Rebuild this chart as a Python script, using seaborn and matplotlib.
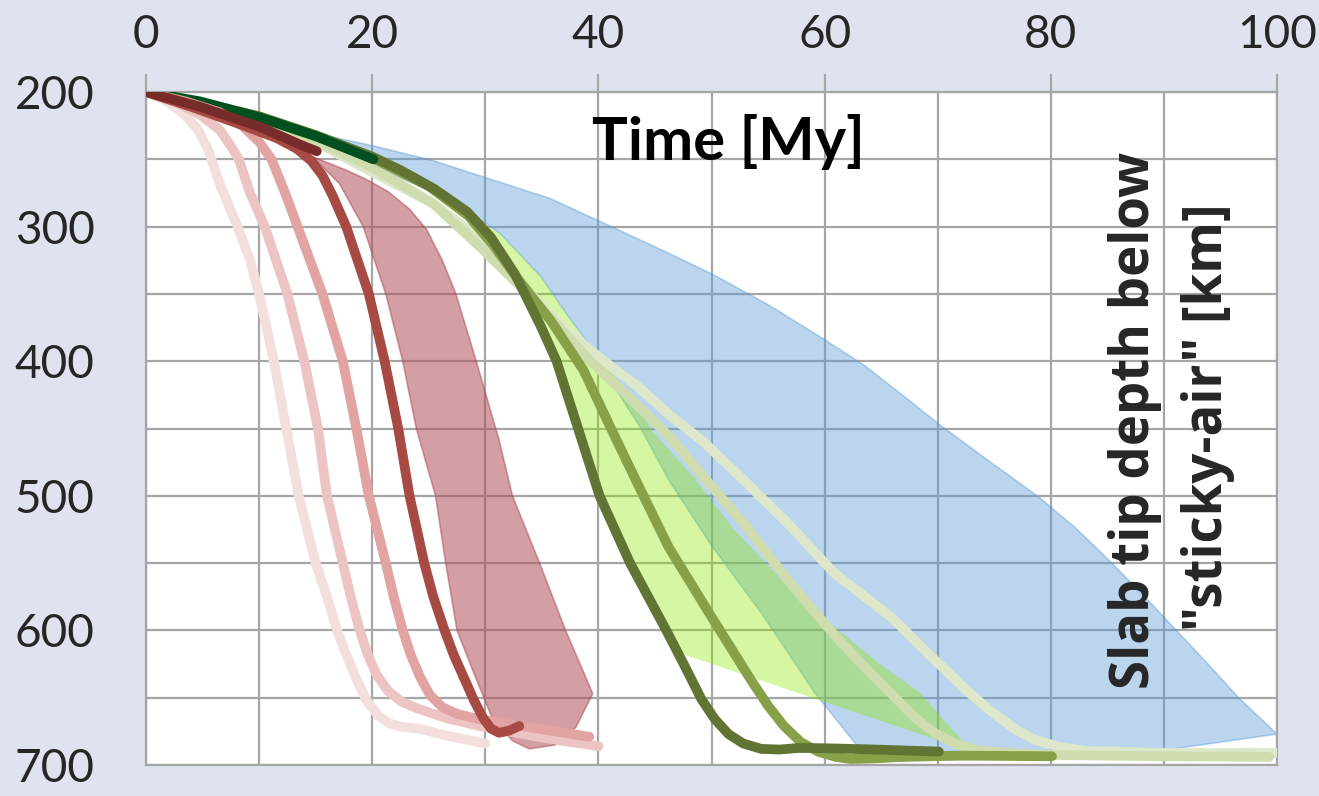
import numpy as np
import seaborn as sns
import matplotlib.pyplot as plt

# ----------------------------
# Data: slab tip depth [km] vs time [My]
# ----------------------------
t_pink1 = [0, 1.5, 3.3, 4.6, 5.5, 6.6, 8.1, 9.2, 10.0, 11.3, 12.4, 13.5, 15.0, 16.0, 16.9, 17.8, 18.6, 19.5, 20.5, 21.5, 22.5, 24.2, 26.5, 30.0]
d_pink1 = [200, 205, 216, 228, 243, 270, 300, 325, 350, 400, 450, 500, 550, 575, 600, 620, 636, 652, 663, 669, 671.5, 673, 678, 684]

t_pink2 = [0, 2.5, 4.8, 6.5, 7.5, 8.2, 9.2, 10.5, 12.5, 14.0, 15.2, 16.0, 17.4, 18.1, 18.9, 19.6, 20.4, 21.4, 22.6, 24.0, 26.5, 29.5, 35.3, 40.0]
d_pink2 = [200, 207, 217, 228, 240, 250, 275, 300, 350, 400, 450, 500, 550, 575, 600, 618, 633, 645, 653, 658, 665, 671, 680, 686]

t_pink3 = [0, 3.5, 6.5, 8.5, 10.0, 11.1, 12.3, 13.4, 15.6, 17.4, 18.6, 19.7, 21.2, 21.9, 22.7, 23.4, 24.2, 25.1, 26.2, 27.5, 29.5, 32.4, 39.2]
d_pink3 = [200, 207, 215, 225, 237, 250, 275, 300, 350, 400, 450, 500, 550, 575, 600, 618, 634, 648, 657, 662, 666, 670, 679]

t_red = [0, 4, 8, 11.5, 13.3, 14.6, 15.6, 16.5, 17.7, 19.7, 21.1, 22.3, 23.3, 24.6, 25.4, 26.4, 27.2, 28.1, 29.0, 29.8, 30.5, 31.2, 32.1, 33.0]
d_red = [200, 211, 223, 234, 242, 251, 262, 277, 300, 350, 400, 450, 500, 550, 575, 600, 618, 635, 652, 665, 673, 676, 674.5, 671]

t_maroon = [0, 4.8, 10.1, 13.6, 15.1]
d_maroon = [200, 211, 226, 239, 244]

t_dkgreen = [0, 4.8, 10.1, 15.1, 20.1]
d_dkgreen = [200, 207, 219, 233, 250]

t_olive1 = [0, 5, 10, 15, 20, 22.5, 25.5, 28.4, 30.5, 32.6, 34.9, 36.3, 38.2, 40.1, 42.8, 46.0, 47.6, 49.1, 50.3, 51.5, 52.8, 54.4, 56.0, 57.7, 60.0, 64.5, 70.1]
d_olive1 = [200, 208, 218, 232, 248, 258, 272, 289, 308, 335, 374, 400, 450, 500, 550, 600, 626, 651, 666, 677, 684, 688, 688.5, 687.3, 687.5, 688.5, 690]

t_olive2 = [0, 5, 10, 15, 20, 25, 28.5, 30.8, 32.8, 35.8, 38.7, 41.0, 43.4, 46.2, 50.0, 53.5, 55.0, 56.4, 57.9, 59.4, 61.0, 62.3, 64.5, 66.7, 72.0, 80.1]
d_olive2 = [200, 208, 219, 233, 249, 270, 292, 315, 338, 370, 407, 448, 490, 538, 590, 637, 656, 671, 683, 690, 694, 695.5, 695, 694, 693, 693.5]

t_paleA = [0, 5, 10, 15, 20, 25.4, 29.9, 33.4, 36.0, 39.3, 42.5, 46.5, 49.5, 52.8, 56.7, 60.6, 63.5, 66.0, 68.0, 69.7, 71.5, 73.5, 76.0, 80.0, 90.0, 99.3]
d_paleA = [200, 209, 221, 236, 256, 283, 318, 347, 370, 400, 425, 458, 488, 520, 562, 601, 627, 648, 665, 676, 684, 689, 691, 692.5, 693.5, 694]

t_paleB = [0, 5, 10, 15, 20.1, 25.4, 30.0, 34.0, 37.2, 40.5, 43.5, 46.3, 49.3, 52.8, 56.7, 60.8, 66.0, 69.5, 73.0, 75.0, 76.8, 78.5, 80.5, 83.0, 90.0, 99.9]
d_paleB = [200, 209, 221, 237, 260, 283, 312, 350, 377, 400, 419, 440, 460, 488, 520, 557, 591, 620, 648, 662, 673, 681, 686, 689.5, 691, 691]

# bands (outline of each shaded range)
t_red_band = [14.7, 17.1, 19.2, 21.2, 22.7, 23.9, 25.6, 26.5, 27.5, 29.0, 30.6, 32.4, 33.9,
              36.2, 38.0, 39.5, 37.1, 34.8, 32.4, 31.2, 29.2, 27.4, 26.2, 24.8, 23.3, 21.4, 19.5, 17.7]
d_red_band = [248, 268, 300, 350, 400, 450, 500, 550, 600, 632, 665, 682, 688,
              685, 672, 647, 600, 550, 500, 458, 400, 350, 325, 302, 287, 274, 265, 258]

t_blue_band = [14, 20.1, 25.4, 29.8, 35.7, 40.1, 45, 50, 55, 60, 63.5, 66.7, 70.3, 74.5, 78.8, 82.2, 85.4, 88.3, 91.1, 93.9, 96.6, 100,
               90, 80.5, 72, 64, 62.9, 59.1, 54.4, 50, 46.2, 43.7, 41.4, 39.3, 37.2, 34.9, 31.3, 27.2, 22]
d_blue_band = [229, 240, 251, 263, 279, 296, 315, 335, 358, 384, 403, 424, 448, 474, 500, 524, 550, 575, 600, 625, 650, 677,
               689, 692, 696, 697, 686, 646, 587, 537, 488, 449, 419, 389, 365, 337, 305, 281, 262]

t_green_band = [27, 30, 32.6, 34.9, 36.3, 38.2, 40.1, 42.8, 46.0, 47.6, 73,
                68.4, 65.2, 60.8, 56.7, 52, 48.6, 44.9, 42.5, 39.5, 37.2, 34.9, 31.3]
d_green_band = [285, 305, 335, 374, 400, 450, 500, 550, 600, 618, 690,
                646, 627, 597, 567, 525, 488, 453, 422, 393, 365, 337, 305]

x_major = [0, 20, 40, 60, 80, 100]
y_major = [200, 300, 400, 500, 600, 700]

# ----------------------------
# Style
# ----------------------------
sns.set_theme(style="white")
plt.rcParams['font.family'] = ['Lato', 'DejaVu Sans']
grid_col = "#a6a6a6"

fig = plt.figure(figsize=(13.19, 7.96), dpi=100)
fig.patch.set_facecolor("#dfe3ef")
ax = fig.add_axes([0.1107, 0.0389, 0.8575, 0.8455])
ax.set_facecolor("white")

# bands
ax.fill(t_blue_band, d_blue_band, color="#5b9bd5", alpha=0.42, lw=1.2, zorder=1)
ax.fill(t_green_band, d_green_band, color="#8ce800", alpha=0.36, lw=0, zorder=1.1)
ax.fill(t_red_band, d_red_band, color="#b0505a", alpha=0.55, lw=1.2, zorder=1)

lines = [
    (t_paleB, d_paleB, "#dde8ca", 3.0),
    (t_paleA, d_paleA, "#cfdcae", 3.1),
    (t_olive2, d_olive2, "#88a047", 3.2),
    (t_olive1, d_olive1, "#617434", 3.3),
    (t_dkgreen, d_dkgreen, "#00501f", 3.4),
    (t_pink1, d_pink1, "#f3dfde", 3.5),
    (t_pink2, d_pink2, "#ecc4c3", 3.6),
    (t_pink3, d_pink3, "#e2a4a2", 3.7),
    (t_red, d_red, "#a84a44", 3.8),
    (t_maroon, d_maroon, "#772c2a", 3.9),
]
for tx, dy, col, z in lines:
    sns.lineplot(x=tx, y=dy, color=col, linewidth=7, sort=False, estimator=None,
                 ax=ax, zorder=z, solid_capstyle="round", solid_joinstyle="round")

# ----------------------------
# Axes
# ----------------------------
ax.set_xlim(0, 100)
ax.set_ylim(700, 200)
ax.xaxis.tick_top()
ax.set_xticks(x_major)
ax.set_xticks(np.arange(10, 100, 20), minor=True)
ax.set_yticks(y_major)
ax.set_yticks(np.arange(250, 700, 100), minor=True)
ax.tick_params(which="major", length=13, width=1.6, color=grid_col, labelsize=33)
ax.tick_params(axis="x", which="major", pad=13)
ax.tick_params(axis="y", which="major", pad=24)
ax.tick_params(which="minor", length=0)
ax.grid(which="both", color=grid_col, linewidth=1.6)
ax.set_axisbelow(True)
for s in ax.spines.values():
    s.set_color(grid_col)
    s.set_linewidth(1.6)
ax.set_xlabel("")
ax.set_ylabel("")

ax.text(51.5, 250.5, "Time [My]", ha="center", va="baseline", fontsize=43,
        fontweight="bold", color="black", zorder=5)
ax.text(87.4, 443.7, "Slab tip depth below", rotation=90, ha="center", va="center",
        fontsize=38, fontweight="bold", family=["Open Sans", "DejaVu Sans"], zorder=5)
ax.text(93.9, 441.8, "\"sticky-air\" [km]", rotation=90, ha="center", va="center",
        fontsize=38, fontweight="bold", family=["Open Sans", "DejaVu Sans"], zorder=5)

fig.savefig("out.png", dpi=100, facecolor=fig.get_facecolor())
